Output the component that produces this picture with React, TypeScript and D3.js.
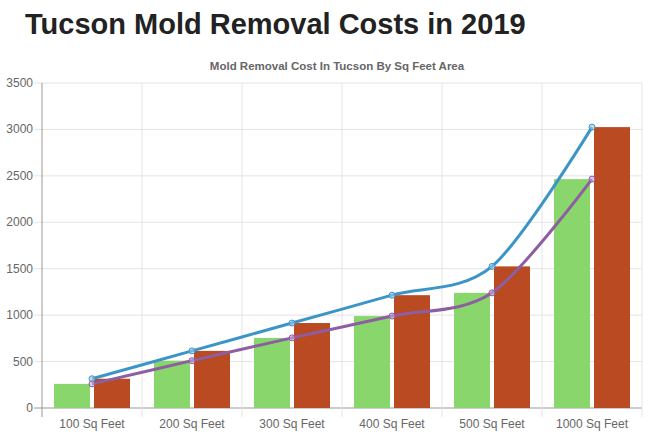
import React from "react";
import * as d3 from "d3";

const categories = ["100 Sq Feet", "200 Sq Feet", "300 Sq Feet", "400 Sq Feet", "500 Sq Feet", "1000 Sq Feet"];
const lowCost = [260, 510, 755, 990, 1240, 2465];
const highCost = [315, 615, 915, 1215, 1525, 3025];
const yTicks = [0, 500, 1000, 1500, 2000, 2500, 3000, 3500];

export default function App() {
  const W = 661, H = 435;
  const left = 42, right = 642, top = 83, bottom = 408;
  const x = d3.scaleBand<string>().domain(categories).range([left, right]);
  const y = d3.scaleLinear().domain([0, 3500]).range([bottom, top]);
  const bw = 36;
  const cx = (i: number) => (x(categories[i]) as number) + x.bandwidth() / 2;
  const line = d3.line<number>().x((_, i) => cx(i)).y((v) => y(v)).curve(d3.curveCardinal.tension(0.1));
  const font = "Arial, 'Liberation Sans', sans-serif";
  return (
    <svg width={W} height={H} style={{ position: "absolute", left: 0, top: 0, background: "#fff" }} fontFamily={font}>
      <text x={25} y={34} fontSize={29} fontWeight="bold" fill="#222">Tucson Mold Removal Costs in 2019</text>
      <text x={337} y={70} fontSize={11.5} fontWeight="bold" fill="#666" textAnchor="middle">Mold Removal Cost In Tucson By Sq Feet Area</text>
      {yTicks.map((t) => (
        <g key={t}>
          <line x1={left - 8} x2={right} y1={y(t)} y2={y(t)} stroke={t === 0 ? "#999" : "#e4e4e4"} />
          <text x={33} y={y(t) + 4} fontSize={12} fill="#666" textAnchor="end">{t}</text>
        </g>
      ))}
      {categories.map((c, i) => (
        <g key={c}>
          <line x1={(x(c) as number)} x2={(x(c) as number)} y1={top} y2={bottom + 9} stroke={i === 0 ? "#999" : "#e4e4e4"} />
          <text x={cx(i)} y={bottom + 20} fontSize={12} fill="#666" textAnchor="middle">{c}</text>
        </g>
      ))}
      <line x1={right} x2={right} y1={top} y2={bottom + 9} stroke="#e4e4e4" />
      {categories.map((c, i) => (
        <g key={"b" + c}>
          <rect x={cx(i) - bw - 2} y={y(lowCost[i])} width={bw} height={bottom - y(lowCost[i])} fill="#88d66c" />
          <rect x={cx(i) + 2} y={y(highCost[i])} width={bw} height={bottom - y(highCost[i])} fill="#b94a22" />
        </g>
      ))}
      <path d={line(highCost) || ""} fill="none" stroke="#3b95c9" strokeWidth={3} />
      <path d={line(lowCost) || ""} fill="none" stroke="#8e5ea2" strokeWidth={3} />
      {highCost.map((v, i) => (
        <circle key={"h" + i} cx={cx(i)} cy={y(v)} r={3} fill="rgba(160,200,230,0.6)" stroke="#3b95c9" strokeWidth={1} />
      ))}
      {lowCost.map((v, i) => (
        <circle key={"l" + i} cx={cx(i)} cy={y(v)} r={3} fill="rgba(200,170,210,0.6)" stroke="#8e5ea2" strokeWidth={1} />
      ))}
    </svg>
  );
}
